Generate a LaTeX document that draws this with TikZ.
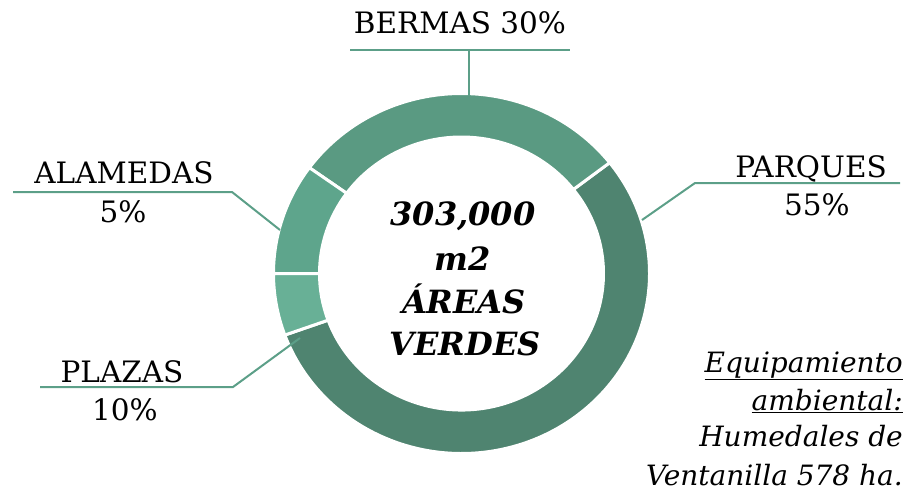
\documentclass[tikz,border=0pt]{standalone}
\usepackage{fontspec}
\setmainfont{DejaVu Serif}
\definecolor{parque}{HTML}{4F8470}
\definecolor{berma}{HTML}{5A9A82}
\definecolor{alameda}{HTML}{5EA58C}
\definecolor{plaza}{HTML}{68B096}
\definecolor{leadc}{HTML}{5C9F88}
\newcommand{\ringpart}[3]{%
  \path[part,fill=#3] (#1:188 and 180) arc[start angle=#1,end angle=#2,x radius=188,y radius=180]
    -- (#2:142 and 136.5) arc[start angle=#2,end angle=#1,x radius=142,y radius=136.5] -- cycle;}
\begin{document}
\begin{tikzpicture}[x=1pt,y=-1pt,
  lbl/.style={inner sep=0pt,anchor=base,font=\fontsize{29.5}{34}\selectfont},
  mid/.style={inner sep=0pt,anchor=base,font=\fontsize{32}{38}\selectfont\bfseries\itshape},
  note/.style={inner sep=0pt,anchor=base east,font=\fontsize{28}{33}\selectfont\itshape},
  leader/.style={draw=leadc,line width=2pt},
  part/.style={draw=white,line width=3pt}]

      \useasboundingbox (0,0) rectangle (916,493);

      % ring
      \begin{scope}[shift={(461.5,273.5)},y=1pt]
        \ringpart{38}{-160}{parque}
        \ringpart{38}{144}{berma}
        \ringpart{144}{180}{alameda}
        \ringpart{180}{200}{plaza}
      \end{scope}

      \node[mid] (total) at (463,225) {303,000};
      \node[mid] (unit) at (463,270) {m2};
      \node[mid] (areas) at (464,313) {ÁREAS};
      \node[mid] (verdes) at (465,355) {VERDES};

      \node[lbl] (bermas) at (460,33) {BERMAS 30\%};
      \node[lbl] (parques) at (811,177) {PARQUES};
      \node[lbl] (parquesp) at (817,215) {55\%};
      \node[lbl] (alamedas) at (124,183) {ALAMEDAS};
      \node[lbl] (alamedasp) at (123,222) {5\%};
      \node[lbl] (plazas) at (122,382) {PLAZAS};
      \node[lbl] (plazasp) at (125,420) {10\%};

      \coordinate (bl) at (350,50);
      \coordinate (br) at (570,50);
      \coordinate (be) at (469,50);
      \coordinate (bt) at (469,96);
      \coordinate (pt) at (642,220);
      \coordinate (pe) at (695,183);
      \coordinate (pr) at (900,183);
      \coordinate (at) at (280,230);
      \coordinate (ae) at (232,192);
      \coordinate (al) at (13,192);
      \coordinate (zt) at (300,338);
      \coordinate (ze) at (233,387);
      \coordinate (zl) at (40,387);

      \draw[leader] (bl) -- (br);
      \draw[leader] (be) -- (bt);
      \draw[leader] (pt) -- (pe) -- (pr);
      \draw[leader] (at) -- (ae) -- (al);
      \draw[leader] (zt) -- (ze) -- (zl);

      \node[note] (equipo) at (903,372) {\underline{Equipamiento}};
      \node[note] (ambiente) at (903,410) {\underline{ambiental:}};
      \node[note] (humedal) at (903,446) {Humedales de};
      \node[note] (ventanilla) at (903,485) {Ventanilla 578 ha.};
    \end{tikzpicture}
\end{document}
